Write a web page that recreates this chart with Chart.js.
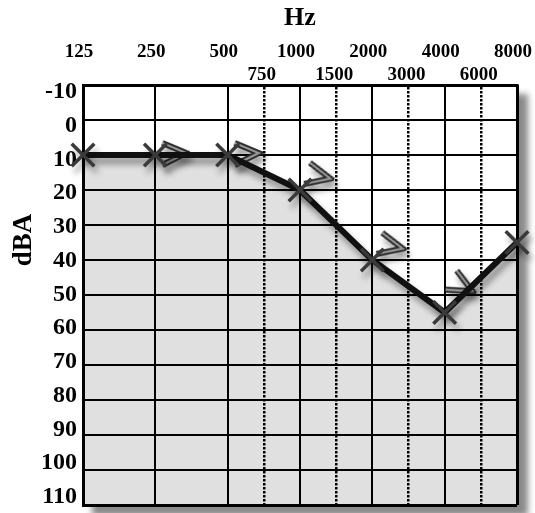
<!DOCTYPE html>
<html>
<head>
<meta charset="utf-8">
<script src="https://cdn.jsdelivr.net/npm/chart.js@4.4.1/dist/chart.umd.min.js"></script>
<style>
  html, body { margin: 0; padding: 0; background: #fff; }
  #wrap { width: 535px; height: 513px; }
</style>
</head>
<body>
<div id="wrap"><canvas id="audiogram"></canvas></div>
<script>
// Audiogram: air conduction (X) and bone conduction (>) thresholds

const freqLabels = ['125', '250', '500', '1000', '2000', '4000', '8000'];
const midFreqLabels = ['750', '1500', '3000', '6000'];
const dbTicks = [-10, 0, 10, 20, 30, 40, 50, 60, 70, 80, 90, 100, 110];

const airFreqs = [125, 250, 500, 1000, 2000, 4000, 8000];
const airValues = [10, 10, 10, 20, 40, 55, 35];

const boneFreqs = [250, 500, 1000, 2000, 4000];
const boneValues = [10, 10, 15, 35, 45];

// octave position on the audiogram (125 Hz = 0)
function octave(f) { return Math.log2(f / 125); }

const serif = '"Liberation Serif", "Times New Roman", serif';

// ">" symbol drawn beside the frequency line
function makeBoneGlyph() {
    const c = document.createElement('canvas');
    c.width = 70; c.height = 40;
    const g = c.getContext('2d');
    g.lineJoin = 'miter';
    g.beginPath();
    g.moveTo(42, 8);
    g.lineTo(66, 18);
    g.lineTo(42, 30);
    g.strokeStyle = '#2a2a2a';
    g.lineWidth = 6;
    g.stroke();
    g.strokeStyle = '#9a9a9a';
    g.lineWidth = 2;
    g.stroke();
    return c;
}

const shadowPlugin = {
    id: 'shadows',
    beforeDraw(chart) {
        // drop shadow of the grid box (outside the plot area only)
        const { ctx, chartArea: a, width, height } = chart;
        ctx.save();
        ctx.beginPath();
        ctx.rect(0, 0, width, height);
        ctx.rect(a.left, a.top, a.right - a.left, a.bottom - a.top);
        ctx.clip('evenodd');
        ctx.filter = 'blur(3px)';
        ctx.fillStyle = '#8a8a8a';
        ctx.fillRect(a.left + 9, a.top + 9, a.right - a.left + 2, a.bottom - a.top + 2);
        ctx.restore();
    },
    beforeDatasetDraw(chart) {
        const ctx = chart.ctx;
        ctx.save();
        ctx.shadowColor = 'rgba(0,0,0,0.4)';
        ctx.shadowBlur = 6;
        ctx.shadowOffsetX = 3;
        ctx.shadowOffsetY = 6;
    },
    afterDatasetDraw(chart) {
        chart.ctx.restore();
    },
    afterDraw(chart) {
        const ctx = chart.ctx;
        ctx.save();
        ctx.translate(24, 240);
        ctx.rotate(-Math.PI / 2);
        ctx.font = 'bold 27px ' + serif;
        ctx.fillStyle = '#000';
        ctx.textAlign = 'center';
        ctx.textBaseline = 'middle';
        ctx.fillText('dBA', 0, 0);
        ctx.restore();
    }
};

const edgeWidth = (lo, hi) => (c) => (c.tick && (c.tick.value === lo || c.tick.value === hi)) ? 3 : 2;

new Chart(document.getElementById('audiogram'), {
    type: 'scatter',
    data: {
        datasets: [{
            label: 'Air',
            data: airFreqs.map((f, i) => ({ x: octave(f), y: airValues[i] })),
            showLine: true,
            borderColor: '#111',
            borderWidth: 6,
            tension: 0,
            fill: { value: 110 },
            backgroundColor: '#e0e0e0',
            pointStyle: 'crossRot',
            pointRadius: 16,
            pointBorderWidth: 3.5,
            pointBorderColor: '#3a3a3a',
            clip: false,
            xAxisID: 'x',
            yAxisID: 'y'
        }, {
            label: 'Bone',
            data: boneFreqs.map((f, i) => ({ x: octave(f), y: boneValues[i] })),
            showLine: false,
            pointStyle: makeBoneGlyph(),
            pointRotation: [0, 0, 15, 15, 30],
            pointRadius: 10,
            clip: false,
            xAxisID: 'x',
            yAxisID: 'y'
        }]
    },
    options: {
        responsive: true,
        maintainAspectRatio: false,
        animation: false,
        events: [],
        layout: { autoPadding: false, padding: { top: 0, left: 0, right: 18, bottom: 8 } },
        plugins: {
            legend: { display: false },
            tooltip: { enabled: false },
            filler: { drawTime: 'beforeDraw' }
        },
        scales: {
            x: {
                type: 'linear',
                position: 'top',
                weight: 2,
                min: 0,
                max: 6,
                afterBuildTicks: s => { s.ticks = freqLabels.map((_, i) => ({ value: i })); },
                afterFit: s => { s.height = 62; s.paddingLeft = 0; s.paddingRight = 0; },
                ticks: {
                    callback: (v, i) => freqLabels[i],
                    font: { family: serif, size: 19, weight: 'bold', lineHeight: 1 },
                    color: '#000',
                    padding: 0,
                    labelOffset: -4,
                    maxRotation: 0,
                    autoSkip: false
                },
                title: {
                    display: true,
                    text: 'Hz',
                    font: { family: serif, size: 26, weight: 'bold', lineHeight: 1 },
                    color: '#000',
                    padding: { top: 5, bottom: 0 }
                },
                grid: { color: '#000', lineWidth: edgeWidth(0, 6), drawTicks: false },
                border: { display: false }
            },
            xMid: {
                type: 'linear',
                position: 'top',
                weight: 1,
                min: 0,
                max: 6,
                afterBuildTicks: s => { s.ticks = midFreqLabels.map((_, i) => ({ value: i + 2.5 })); },
                afterFit: s => { s.height = 23; s.paddingLeft = 0; s.paddingRight = 0; },
                ticks: {
                    callback: (v, i) => midFreqLabels[i],
                    font: { family: serif, size: 19, weight: 'bold', lineHeight: 1 },
                    color: '#000',
                    padding: 0,
                    labelOffset: -2,
                    maxRotation: 0,
                    autoSkip: false
                },
                grid: { color: '#000', lineWidth: 2.5, drawTicks: false },
                border: { display: true, color: '#000', width: 3, dash: [2.5, 1.5] }
            },
            y: {
                type: 'linear',
                position: 'left',
                weight: 0,
                reverse: true,
                min: -10,
                max: 110,
                afterBuildTicks: s => { s.ticks = dbTicks.map(v => ({ value: v })); },
                afterFit: s => { s.width = 0; s.paddingTop = 0; s.paddingBottom = 0; },
                ticks: { display: false },
                grid: { color: '#000', lineWidth: edgeWidth(-10, 110), drawTicks: false },
                border: { display: true, color: '#000', width: 3 }
            },
            yLab: {
                // tick labels only, spaced as in the printed audiogram
                type: 'linear',
                position: 'left',
                weight: 1,
                reverse: true,
                min: -12.07,
                max: 112.37,
                afterBuildTicks: s => { s.ticks = dbTicks.map(v => ({ value: v })); },
                afterFit: s => { s.width = 83; s.paddingTop = 0; s.paddingBottom = 0; },
                ticks: {
                    callback: v => String(v),
                    font: { family: serif, size: 24, weight: 'bold', lineHeight: 1 },
                    color: '#000',
                    padding: 6
                },
                grid: { display: false, drawTicks: false },
                border: { display: false }
            }
        }
    },
    plugins: [shadowPlugin]
});
</script>
</body>
</html>
